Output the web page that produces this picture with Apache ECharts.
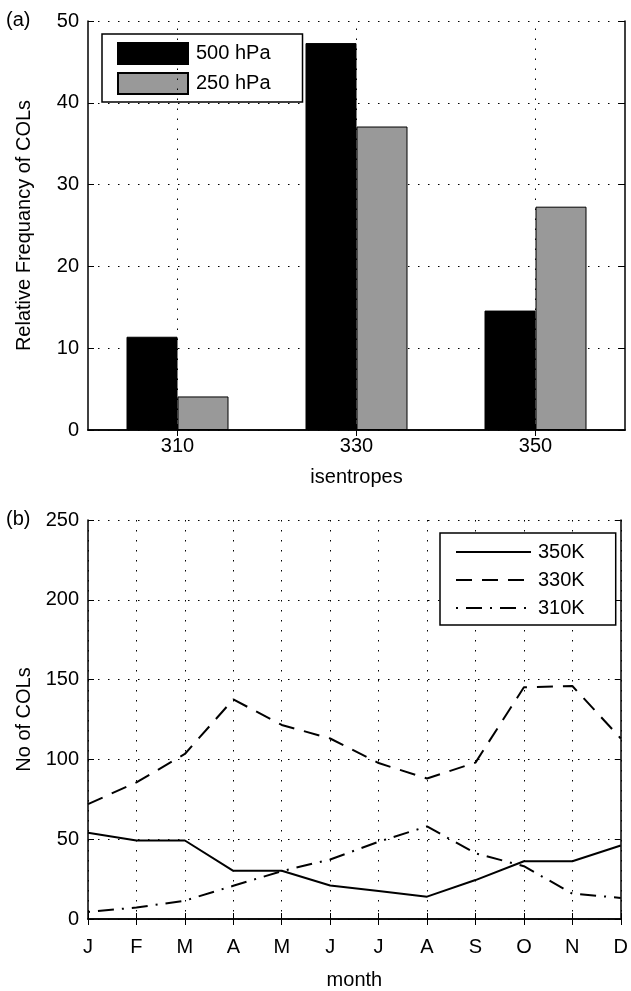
<!DOCTYPE html>
<html>
<head>
<meta charset="utf-8">
<script src="https://cdn.jsdelivr.net/npm/echarts@6/dist/echarts.min.js"></script>
<style>
html,body{margin:0;padding:0;background:#fff;}
#c{width:631px;height:991px;}
</style>
</head>
<body>
<div id="c"></div>
<script>
// ---- data ----
const categories = ['310', '330', '350'];
const freq500 = [11.4, 47.3, 14.6];
const freq250 = [4.1, 37.1, 27.3];
const barYTicks = [0, 10, 20, 30, 40, 50];

const months = ['J', 'F', 'M', 'A', 'M', 'J', 'J', 'A', 'S', 'O', 'N', 'D'];
const k350 = [54, 49.2, 49.2, 30.2, 30.2, 21, 17.6, 14, 24.4, 36.2, 36.2, 46.1];
const k330 = [72, 85.6, 103.4, 137.6, 121.6, 113.1, 97.7, 88, 98, 145.2, 146, 113.1];
const k310 = [4.4, 7.2, 11.5, 20.8, 30, 37.3, 48.4, 58, 41.2, 33.1, 15.9, 13.2];
const lineYTicks = [0, 50, 100, 150, 200, 250];

const FONT = '"Liberation Sans", Arial, Helvetica, sans-serif';
const FS = 20;
const dotted = [1.5, 8.5];

function baseX(grid, data, opts) {
  return Object.assign({
    type: 'category', gridIndex: grid, data: data,
    axisLine: {show: true, lineStyle: {color: '#000', width: 1.5}},
    axisTick: {show: true, inside: true, length: 6, lineStyle: {color: '#000', width: 1}},
    axisLabel: {show: true, color: '#000', fontFamily: FONT, fontSize: FS, margin: 9},
    splitLine: {show: false}
  }, opts);
}
function baseY(grid, ticks, opts) {
  return Object.assign({
    type: 'value', gridIndex: grid,
    min: ticks[0], max: ticks[ticks.length - 1], interval: ticks[1] - ticks[0],
    axisLine: {show: true, lineStyle: {color: '#000', width: 1.5}},
    axisTick: {show: true, inside: true, length: 6, lineStyle: {color: '#000', width: 1}},
    axisLabel: {show: true, color: '#000', fontFamily: FONT, fontSize: FS, margin: 9},
    splitLine: {show: false}
  }, opts);
}

const chart = echarts.init(document.getElementById('c'), null, {renderer: 'canvas'});
const option = {
  animation: false,
  backgroundColor: '#fff',
  textStyle: {fontFamily: FONT},
  grid: [
    {left: 88, top: 21, width: 537, height: 409},
    {left: 88, top: 520, width: 537, height: 408}
  ],
  xAxis: [
    baseX(0, categories, {
      axisTick: {show: true, inside: true, length: 6, alignWithLabel: true, lineStyle: {color: '#000', width: 1}},
      axisLabel: {show: true, color: '#000', fontFamily: FONT, fontSize: FS, margin: 6},
      name: 'isentropes', nameLocation: 'middle', nameGap: 37,
      nameTextStyle: {color: '#000', fontFamily: FONT, fontSize: FS}
    }),
    baseX(0, categories, {
      position: 'top',
      axisTick: {show: true, inside: true, length: 6, alignWithLabel: true, lineStyle: {color: '#000', width: 1}},
      axisLabel: {show: false}
    }),
    baseX(1, months, {
      boundaryGap: false,
      axisLabel: {show: true, color: '#000', fontFamily: FONT, fontSize: FS, margin: 18},
      splitLine: {show: true, lineStyle: {color: '#000', width: 1, type: dotted}},
      name: 'month', nameLocation: 'middle', nameGap: 51,
      nameTextStyle: {color: '#000', fontFamily: FONT, fontSize: FS}
    }),
    baseX(1, months, {
      boundaryGap: false, position: 'top',
      axisLabel: {show: false}
    })
  ],
  yAxis: [
    baseY(0, barYTicks, {
      splitLine: {show: true, lineStyle: {color: '#000', width: 1, type: dotted}},
      name: 'Relative Frequancy of COLs', nameLocation: 'middle', nameGap: 54,
      nameTextStyle: {color: '#000', fontFamily: FONT, fontSize: FS}
    }),
    baseY(0, barYTicks, {position: 'right', axisLabel: {show: false}}),
    baseY(1, lineYTicks, {
      splitLine: {show: true, lineStyle: {color: '#000', width: 1, type: dotted}},
      name: 'No of COLs', nameLocation: 'middle', nameGap: 54,
      nameTextStyle: {color: '#000', fontFamily: FONT, fontSize: FS}
    }),
    baseY(1, lineYTicks, {position: 'right', axisLabel: {show: false}})
  ],
  legend: [
    {
      orient: 'vertical', left: 102, top: 34,
      data: ['500 hPa', '250 hPa'],
      icon: 'rect',
      itemWidth: 70, itemHeight: 21, itemGap: 7,
      padding: [8, 32, 7, 15],
      borderColor: '#000', borderWidth: 1.5, backgroundColor: '#fff',
      textStyle: {color: '#000', fontFamily: FONT, fontSize: FS, padding: [0, 0, 0, 3]},
      selectedMode: false
    },
    {
      orient: 'vertical', left: 440, top: 533,
      data: ['350K', '330K', '310K'],
      itemWidth: 75, itemHeight: 14, itemGap: 8,
      itemStyle: {opacity: 0},
      padding: [9, 31, 7, 15],
      borderColor: '#000', borderWidth: 1.5, backgroundColor: '#fff',
      textStyle: {color: '#000', fontFamily: FONT, fontSize: FS, padding: [0, 0, 0, 2]},
      selectedMode: false
    }
  ],
  graphic: [
    {type: 'text', left: 6, top: 10, style: {text: '(a)', fill: '#000', font: FS + 'px ' + FONT}},
    {type: 'text', left: 6, top: 509, style: {text: '(b)', fill: '#000', font: FS + 'px ' + FONT}}
  ],
  series: [
    {
      name: 'vgrid', type: 'line', xAxisIndex: 0, yAxisIndex: 0, data: [], z: 1, silent: true,
      markLine: {
        silent: true, symbol: ['none', 'none'], label: {show: false},
        lineStyle: {color: '#000', width: 1, type: dotted},
        data: categories.map(c => ({xAxis: c}))
      }
    },
    {
      name: '500 hPa', type: 'bar', xAxisIndex: 0, yAxisIndex: 0, data: freq500, z: 3,
      barWidth: 51, barGap: '0%',
      itemStyle: {color: '#000', borderColor: '#000', borderWidth: 1}
    },
    {
      name: '250 hPa', type: 'bar', xAxisIndex: 0, yAxisIndex: 0, data: freq250, z: 3,
      barWidth: 51, barGap: '0%',
      itemStyle: {color: '#999999', borderColor: '#000', borderWidth: 1}
    },
    {
      name: '350K', type: 'line', xAxisIndex: 2, yAxisIndex: 2, data: k350, z: 3,
      symbol: 'none', lineStyle: {color: '#000', width: 2, type: 'solid'}, itemStyle: {color: '#000'}
    },
    {
      name: '330K', type: 'line', xAxisIndex: 2, yAxisIndex: 2, data: k330, z: 3,
      symbol: 'none', lineStyle: {color: '#000', width: 2, type: [16, 10]}, itemStyle: {color: '#000'}
    },
    {
      name: '310K', type: 'line', xAxisIndex: 2, yAxisIndex: 2, data: k310, z: 3,
      symbol: 'none', lineStyle: {color: '#000', width: 2, type: [2, 8, 16, 8]}, itemStyle: {color: '#000'}
    }
  ]
};
chart.setOption(option);
</script>
</body>
</html>
